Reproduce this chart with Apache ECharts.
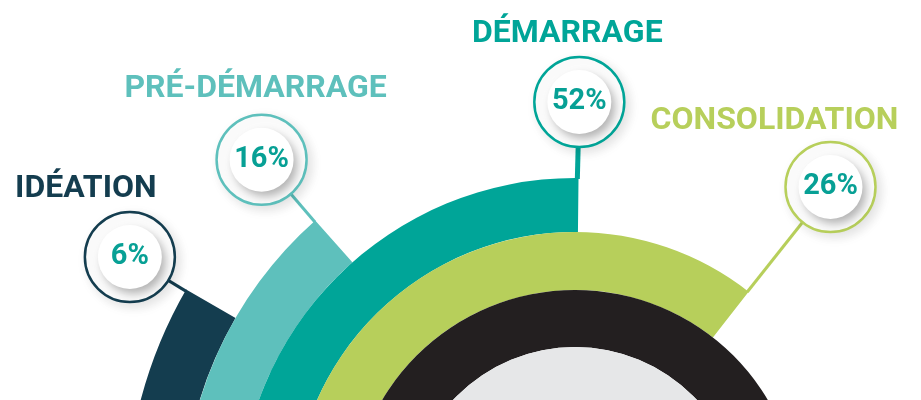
<!DOCTYPE html>
<html>
<head>
  <meta charset="utf-8" />
  <style>
    html, body { margin: 0; padding: 0; background: #fff; }
    #main { width: 921px; height: 400px; }
  </style>
</head>
<body>
  <div id="main"></div>
  <script src="https://cdn.jsdelivr.net/npm/echarts@6.0.0/dist/echarts.min.js"></script>
  <script>
    // étapes du parcours
    var stages = ["IDÉATION", "PRÉ-DÉMARRAGE", "DÉMARRAGE", "CONSOLIDATION"];
    // part de chaque étape (%)
    var shares = [6, 16, 52, 26];
    // longueur de chaque arc en degrés (depuis 9 h, sens horaire)
    var arcDegrees = [30, 48.5, 90.6, 128];

    // mise en page
    var cx = 575, cy = 514;
    var ringRadii = [[392, 449], [336, 392], [282, 336], [224, 282]];
    var badgeDist = [514, 473, 412, 415];
    var ringColors = ["#143d4f", "#5ec0bc", "#00a598", "#b7cf5b"];
    var lineWidths = [3, 3, 5, 3];
    var titleOffsets = [[-44, 2], [-6, 0], [-12, 2], [-56, 4]];
    var pctColor = "#07a095";

    var series = [];

    // anneaux
    stages.forEach(function (name, i) {
      series.push({
        type: "pie",
        silent: true,
        z: 1,
        center: [cx, cy],
        radius: ringRadii[i],
        startAngle: 180,
        clockwise: true,
        label: { show: false },
        labelLine: { show: false },
        emphasis: { disabled: true },
        data: [
          { value: arcDegrees[i], itemStyle: { color: ringColors[i] } },
          { value: 360 - arcDegrees[i], itemStyle: { color: "transparent" } }
        ]
      });
    });
    // anneau noir et disque gris
    series.push({
      type: "pie", silent: true, z: 1, center: [cx, cy], radius: [167, 224],
      label: { show: false }, labelLine: { show: false }, emphasis: { disabled: true },
      data: [{ value: 1, itemStyle: { color: "#231f20" } }]
    });
    series.push({
      type: "pie", silent: true, z: 1, center: [cx, cy], radius: [0, 167],
      label: { show: false }, labelLine: { show: false }, emphasis: { disabled: true },
      data: [{ value: 1, itemStyle: { color: "#e6e7e8" } }]
    });

    // traits de liaison
    stages.forEach(function (name, i) {
      series.push({
        type: "line",
        coordinateSystem: "polar",
        silent: true,
        z: 2,
        symbol: "none",
        lineStyle: { color: ringColors[i], width: lineWidths[i] },
        data: [[ringRadii[i][1] - 1, arcDegrees[i] - 0.2], [badgeDist[i], arcDegrees[i]]]
      });
    });

    // pastilles + titres
    series.push({
      type: "scatter",
      coordinateSystem: "polar",
      silent: true,
      z: 3,
      symbolSize: 90,
      data: stages.map(function (name, i) {
        return {
          value: [badgeDist[i], arcDegrees[i]],
          name: name,
          itemStyle: {
            opacity: 1,
            color: "#fff",
            borderColor: ringColors[i],
            borderWidth: 2.5,
            shadowBlur: 12,
            shadowColor: "rgba(0,0,0,0.12)",
            shadowOffsetX: 4,
            shadowOffsetY: 4
          },
          label: {
            show: true,
            position: "top",
            distance: 8,
            offset: titleOffsets[i],
            formatter: name,
            color: ringColors[i],
            fontFamily: "Roboto",
            fontWeight: "bold",
            fontSize: 32
          }
        };
      })
    });
    series.push({
      type: "scatter",
      coordinateSystem: "polar",
      silent: true,
      z: 4,
      symbolSize: 64,
      itemStyle: {
        opacity: 1,
        color: "#fff",
        shadowBlur: 10,
        shadowColor: "rgba(0,0,0,0.3)",
        shadowOffsetX: 4,
        shadowOffsetY: 5
      },
      label: {
        show: true,
        position: "inside",
        formatter: function (p) { return shares[p.dataIndex] + "%"; },
        color: pctColor,
        fontFamily: "Roboto",
        fontWeight: "bold",
        fontSize: 29
      },
      data: stages.map(function (name, i) { return [badgeDist[i], arcDegrees[i]]; })
    });

    var myChart = echarts.init(document.getElementById("main"));
    myChart.setOption({
      animation: false,
      polar: { center: [cx, cy], radius: cy },
      angleAxis: { type: "value", min: 0, max: 360, startAngle: 180, clockwise: true, show: false },
      radiusAxis: { type: "value", min: 0, max: cy, show: false },
      series: series
    });
  </script>
</body>
</html>
